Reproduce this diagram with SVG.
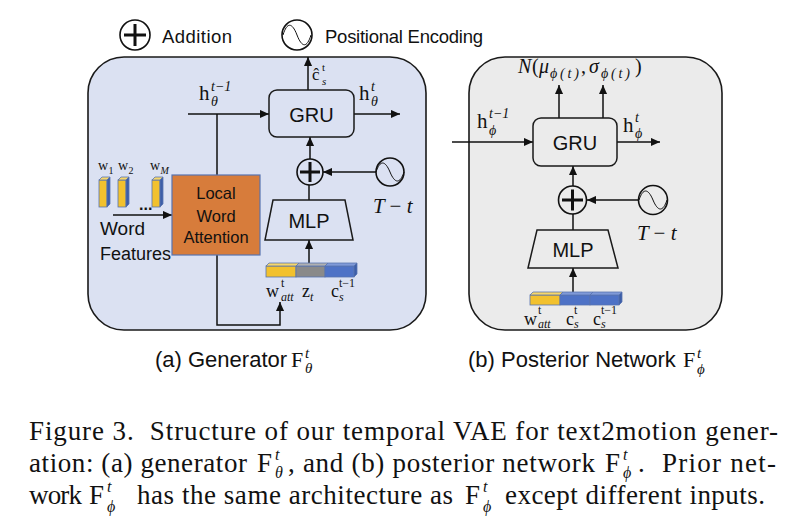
<svg xmlns="http://www.w3.org/2000/svg" width="804" height="520" viewBox="0 0 804 520">
<defs>
<style>
.sans{font-family:"Liberation Sans",Arial,sans-serif;fill:#111}
.serif{font-family:"Liberation Serif","DejaVu Serif",serif;fill:#111}
.it{font-style:italic}
.ln{stroke:#111;stroke-width:1.5;fill:none}
.arr{marker-end:url(#ah)}
.box{fill:none;stroke:#1a1a1a;stroke-width:1.5}
.circ{stroke:#111;stroke-width:1.6}
.plus{stroke:#111;stroke-width:3;fill:none}
.sine{stroke:#111;stroke-width:1;fill:none}
.vec{stroke:#5873b0;stroke-width:0.8}
.yel{fill:#f2c12e}.yelT{fill:#f7d76a}
.gry{fill:#8a8a8a}.gryT{fill:#b0b0b0}
.blu{fill:#4e72c6}.bluT{fill:#7f99d8}.bluS{fill:#3c5ea8}
</style>
<marker id="ah" viewBox="0 0 10 10" refX="10" refY="5" markerWidth="9" markerHeight="9" markerUnits="userSpaceOnUse" orient="auto"><path d="M0,0.5 L10,5 L0,9.5 z" fill="#111"/></marker>
</defs>
<rect width="804" height="520" fill="#fff"/>

<!-- legend -->
<g id="legend-addition">
<circle cx="135" cy="35" r="15" fill="#fff" class="circ"/>
<path class="plus" d="M124,35 H146 M135,24 V46"/>
<text class="sans" x="162" y="43" font-size="18.5" textLength="70">Addition</text>
</g>
<g id="legend-positional">
<circle cx="297" cy="35" r="15" fill="#fff" class="circ"/>
<path class="sine" d="M283,35 C287,22 292,22 297,35 C302,48 307,48 311,35"/>
<text class="sans" x="325" y="43" font-size="18.5" textLength="158">Positional Encoding</text>
</g>

<!-- panels -->
<g id="panel-generator"><rect x="88" y="57" width="338" height="273" rx="36" fill="#dbe1f2" stroke="#1a1a1a" stroke-width="1.6"/></g>
<g id="panel-posterior"><rect x="469" y="57" width="253" height="273" rx="36" fill="#ebebeb" stroke="#1a1a1a" stroke-width="1.6"/></g>

<!-- connectors -->
<g id="connectors">
<path class="ln arr" d="M308,90 V57"/>
<path class="ln arr" d="M188,114 H269"/>
<path class="ln arr" d="M354,114 H400"/>
<path class="ln arr" d="M310,159 V137"/>
<path class="ln arr" d="M376,172 H323"/>
<path class="ln" d="M309,200 V185"/>
<path class="ln arr" d="M309,263 V240"/>
<path class="ln arr" d="M217,114 V325 H280 V302"/>
<path class="ln arr" d="M113,215 H172"/>
<path class="ln arr" d="M452,142 H533"/>
<path class="ln arr" d="M617,142 H660"/>
<path class="ln arr" d="M559,118 V85"/>
<path class="ln arr" d="M603,118 V85"/>
<path class="ln arr" d="M573,186 V166"/>
<path class="ln arr" d="M639,200 H587"/>
<path class="ln" d="M573,230 V214"/>
<path class="ln arr" d="M573,292 V268"/>
</g>

<!-- generator nodes -->
<g id="gru-a">
<rect class="box" x="269" y="90" width="85" height="47" rx="8"/>
<text class="sans" x="311.5" y="122" font-size="20" text-anchor="middle">GRU</text>
</g>
<g id="add-a">
<circle cx="310" cy="172" r="13" fill="#dbe1f2" class="circ"/>
<path class="plus" d="M300,172 H320 M310,162 V182"/>
</g>
<g id="pe-a">
<circle cx="390" cy="172" r="14" fill="#dbe1f2" class="circ"/>
<path class="sine" d="M376,172 C380,160 385,160 390,172 C395,184 400,184 404,172"/>
</g>
<g id="mlp-a">
<path class="box" d="M273,200 H345 L353,240 H265 Z"/>
<text class="sans" x="309" y="228" font-size="20" text-anchor="middle">MLP</text>
</g>
<g id="lwa">
<rect x="172" y="175" width="88" height="80" fill="#d77c3b" stroke="#5873b0" stroke-width="1.2"/>
<text class="sans" x="216" y="199" font-size="16.5" text-anchor="middle">Local</text>
<text class="sans" x="216" y="222" font-size="16.5" text-anchor="middle">Word</text>
<text class="sans" x="216" y="243" font-size="16.5" text-anchor="middle">Attention</text>
</g>
<g id="word-features">
<g class="vec">
<rect class="yel" x="99" y="180" width="8" height="27"/><polygon class="yelT" points="99,180 102,177 110,177 107,180"/><polygon class="bluS" points="107,180 110,177 110,204 107,207"/>
<rect class="yel" x="118" y="180" width="8" height="27"/><polygon class="yelT" points="118,180 121,177 129,177 126,180"/><polygon class="bluS" points="126,180 129,177 129,204 126,207"/>
<rect class="yel" x="152" y="180" width="8" height="27"/><polygon class="yelT" points="152,180 155,177 163,177 160,180"/><polygon class="bluS" points="160,180 163,177 163,204 160,207"/>
</g>
<text class="serif" x="98" y="170" font-size="14">w</text><text class="serif" x="108.5" y="174" font-size="10">1</text>
<text class="serif" x="118" y="170" font-size="14">w</text><text class="serif" x="128.5" y="174" font-size="10">2</text>
<text class="serif" x="150" y="170" font-size="14">w</text><text class="serif it" x="160.5" y="174" font-size="10">M</text>
<text class="sans" x="139" y="210" font-size="16" font-weight="bold">...</text>
<text class="sans" x="100" y="235" font-size="19">Word</text>
<text class="sans" x="100" y="260" font-size="18">Features</text>
</g>
<g id="vec-a">
<g class="vec">
<rect class="yel" x="266" y="266" width="30" height="11"/>
<rect class="gry" x="296" y="266" width="29" height="11"/>
<rect class="blu" x="325" y="266" width="29" height="11"/>
<polygon class="yelT" points="266,266 269,263 299,263 296,266"/>
<polygon class="gryT" points="296,266 299,263 328,263 325,266"/>
<polygon class="bluT" points="325,266 328,263 357,263 354,266"/>
<polygon class="bluS" points="354,266 357,263 357,274 354,277"/>
</g>
</g>
<g id="labels-a">
<text class="serif" x="312" y="80" font-size="17">ĉ</text><text class="serif" x="322" y="71" font-size="11">t</text><text class="serif it" x="322" y="85" font-size="11">s</text>
<text class="serif" x="199" y="100" font-size="21">h</text><text class="serif it" x="211" y="91" font-size="14">t−1</text><text class="serif it" x="211" y="106" font-size="14">θ</text>
<text class="serif" x="359" y="100" font-size="21">h</text><text class="serif it" x="371" y="91" font-size="14">t</text><text class="serif it" x="371" y="106" font-size="14">θ</text>
<text class="serif it" x="373" y="213" font-size="21">T <tspan font-style="normal">−</tspan> t</text>
<text class="serif" x="266" y="297" font-size="18">w</text><text class="serif" x="281" y="287" font-size="12">t</text><text class="serif it" x="281" y="301" font-size="12">att</text>
<text class="serif" x="302" y="297" font-size="18">z</text><text class="serif it" x="310" y="301" font-size="12">t</text>
<text class="serif" x="331" y="297" font-size="18">c</text><text class="serif" x="339" y="287" font-size="12">t−1</text><text class="serif it" x="339" y="301" font-size="12">s</text>
</g>

<!-- posterior nodes -->
<g id="gru-b">
<rect class="box" x="533" y="118" width="84" height="48" rx="8"/>
<text class="sans" x="575" y="150" font-size="20" text-anchor="middle">GRU</text>
</g>
<g id="add-b">
<circle cx="572.5" cy="200" r="14" fill="#ebebeb" class="circ"/>
<path class="plus" d="M562,200 H583 M572.5,189.5 V210.5"/>
</g>
<g id="pe-b">
<circle cx="653" cy="200" r="14.5" fill="#ebebeb" class="circ"/>
<path class="sine" d="M639,200 C643,188 648,188 653,200 C658,212 663,212 667,200"/>
</g>
<g id="mlp-b">
<path class="box" d="M537,230 H608 L618,268 H528 Z"/>
<text class="sans" x="573" y="257" font-size="20" text-anchor="middle">MLP</text>
</g>
<g id="vec-b">
<g class="vec">
<rect class="yel" x="530" y="295" width="30" height="10"/>
<rect class="blu" x="560" y="295" width="30" height="10"/>
<rect class="blu" x="590" y="295" width="29" height="10"/>
<polygon class="yelT" points="530,295 533,292 563,292 560,295"/>
<polygon class="bluT" points="560,295 563,292 593,292 590,295"/>
<polygon class="bluT" points="590,295 593,292 622,292 619,295"/>
<polygon class="bluS" points="619,295 622,292 622,302 619,305"/>
</g>
</g>
<g id="labels-b">
<text class="serif it" x="518" y="73" font-size="20">N</text>
<text class="serif" x="532" y="73" font-size="20">(</text>
<text class="serif it" x="539" y="73" font-size="20">μ</text>
<text class="serif it" x="550" y="78" font-size="14" textLength="29">ϕ(t)</text>
<text class="serif" x="581" y="73" font-size="20">,</text>
<text class="serif it" x="589" y="73" font-size="20">σ</text>
<text class="serif it" x="601" y="78" font-size="14" textLength="29">ϕ(t)</text>
<text class="serif" x="635" y="73" font-size="20">)</text>
<text class="serif" x="477" y="128" font-size="21">h</text><text class="serif it" x="489" y="118" font-size="14">t−1</text><text class="serif it" x="489" y="135" font-size="14">ϕ</text>
<text class="serif" x="623" y="132" font-size="21">h</text><text class="serif it" x="635" y="122" font-size="14">t</text><text class="serif it" x="635" y="138" font-size="14">ϕ</text>
<text class="serif it" x="637" y="240" font-size="21">T <tspan font-style="normal">−</tspan> t</text>
<text class="serif" x="524" y="325" font-size="18">w</text><text class="serif" x="538" y="314" font-size="12">t</text><text class="serif it" x="538" y="328" font-size="12">att</text>
<text class="serif" x="566" y="325" font-size="18">c</text><text class="serif" x="574" y="314" font-size="12">t</text><text class="serif it" x="574" y="328" font-size="12">s</text>
<text class="serif" x="593" y="325" font-size="18">c</text><text class="serif" x="601" y="314" font-size="12">t−1</text><text class="serif it" x="601" y="328" font-size="12">s</text>
</g>

<!-- subcaptions -->
<g id="subcaption-a">
<text class="sans" x="155" y="367" font-size="22">(a) Generator</text>
<text class="serif" x="291" y="367" font-size="22">F</text><text class="serif it" x="305" y="358" font-size="15">t</text><text class="serif it" x="305" y="373" font-size="15">θ</text>
</g>
<g id="subcaption-b">
<text class="sans" x="468" y="367" font-size="22">(b) Posterior Network</text>
<text class="serif" x="683" y="367" font-size="22">F</text><text class="serif it" x="697" y="358" font-size="15">t</text><text class="serif it" x="697" y="374" font-size="15">ϕ</text>
</g>

<!-- caption -->
<g id="caption" class="serif" font-size="27">
<text x="29" y="440" textLength="749">Figure 3.&#160; Structure of our temporal VAE for text2motion gener-</text>
<text x="29" y="472" textLength="218">ation: (a) generator</text>
<text x="257" y="472">F</text><text class="it" x="275" y="460" font-size="16">t</text><text class="it" x="275" y="478" font-size="16">θ</text>
<text x="288" y="472" textLength="307">, and (b) posterior network</text>
<text x="605" y="472">F</text><text class="it" x="623" y="460" font-size="16">t</text><text class="it" x="623" y="478" font-size="16">ϕ</text>
<text x="638" y="472" textLength="138">.&#160; Prior net-</text>
<text x="29" y="504" textLength="53">work</text>
<text x="89" y="504">F</text><text class="it" x="107" y="492" font-size="16">t</text><text class="it" x="107" y="512" font-size="16">ϕ</text>
<text x="137" y="504" textLength="316">has the same architecture as</text>
<text x="465" y="504">F</text><text class="it" x="483" y="492" font-size="16">t</text><text class="it" x="483" y="512" font-size="16">ϕ</text>
<text x="505" y="504" textLength="260">except different inputs.</text>
</g>
</svg>
